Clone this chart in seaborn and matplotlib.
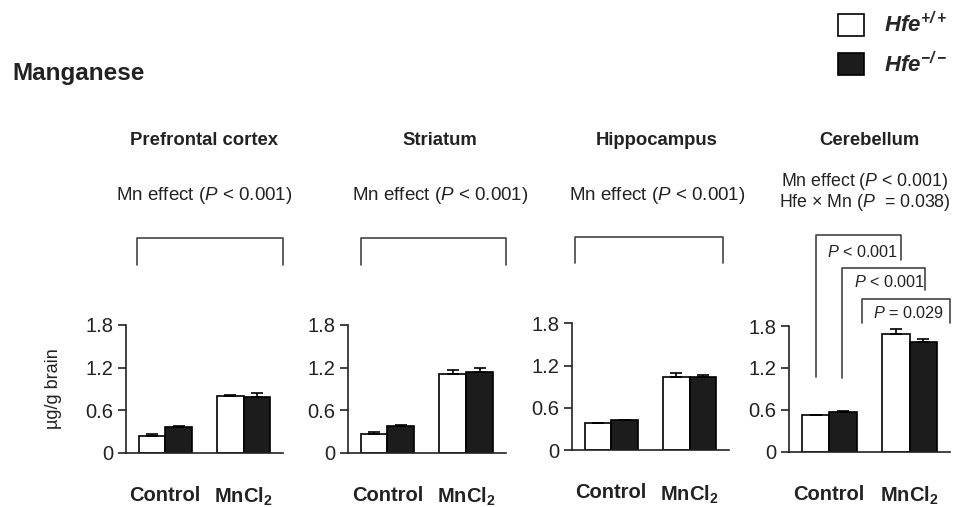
import matplotlib
matplotlib.use("Agg")
import matplotlib.pyplot as plt
import seaborn as sns
import pandas as pd

sns.set_style("white")
plt.rcParams["font.family"] = ["Liberation Sans", "DejaVu Sans"]
plt.rcParams["mathtext.fontset"] = "custom"
plt.rcParams["mathtext.rm"] = "Liberation Sans"
plt.rcParams["mathtext.it"] = "Liberation Sans:italic"
plt.rcParams["mathtext.bf"] = "Liberation Sans:bold"
plt.rcParams["mathtext.bfit"] = "Liberation Sans:bold:italic"

regions = ["Prefrontal cortex", "Striatum", "Hippocampus", "Cerebellum"]
treatments = ["Control", "MnCl$_\\mathbf{2}$"]
genotypes = ["Hfe$^{+/+}$", "Hfe$^{-/-}$"]

# mean values (ug/g brain), [Control, MnCl2]
wt_mean = [[0.24, 0.80], [0.27, 1.11], [0.38, 1.03], [0.52, 1.69]]
ko_mean = [[0.36, 0.78], [0.37, 1.14], [0.42, 1.04], [0.57, 1.57]]
wt_err = [[0.02, 0.02], [0.02, 0.06], [0.01, 0.06], [0.01, 0.06]]
ko_err = [[0.02, 0.06], [0.02, 0.06], [0.01, 0.03], [0.01, 0.04]]

stats_text = ["Mn effect ($\\mathit{P}$ < 0.001)"] * 3 + [
    "Mn effect ($\\mathit{P}$ < 0.001)\nHfe \u00d7 Mn ($\\mathit{P}$  = 0.038)"]
pair_labels = ["$\\mathit{P}$ < 0.001", "$\\mathit{P}$ < 0.001", "$\\mathit{P}$ = 0.029"]

W, H = 957, 507
fig = plt.figure(figsize=(W / 100, H / 100), dpi=100)

# axes boxes in pixels: left, right, y of 0, y of 1.8
boxes = [(126, 283, 452.7, 325), (348, 505.5, 452.7, 325),
         (572, 729, 450, 323.3), (789, 950, 451.7, 326)]
title_x = [204, 440, 657, 869]
bracket_x = [(-0.36, 1.5), (-0.34, 1.51), (-0.46, 1.42)]

white, black = "#ffffff", "#1c1c1c"
line_col = "#444444"
txt_col = "#222222"

for i, region in enumerate(regions):
    l, r, y0, y1 = boxes[i]
    ax = fig.add_axes([l / W, 1 - y0 / H, (r - l) / W, (y0 - y1) / H])
    df = pd.DataFrame({
        "treatment": treatments * 2,
        "genotype": [genotypes[0]] * 2 + [genotypes[1]] * 2,
        "value": wt_mean[i] + ko_mean[i],
    })
    sns.barplot(data=df, x="treatment", y="value", hue="genotype",
                palette=[white, black], width=0.68, edgecolor="black",
                linewidth=1.2, errorbar=None, ax=ax, legend=(i == 0))
    for cont, errs in zip(ax.containers, [wt_err[i], ko_err[i]]):
        xs = [p.get_x() + p.get_width() / 2 for p in cont.patches]
        ys = [p.get_height() for p in cont.patches]
        ax.errorbar(xs, ys, yerr=[[0, 0], errs], fmt="none", ecolor="black",
                    elinewidth=1.2, capsize=4, capthick=1.2)
    ax.set_ylim(0, 1.8)
    ax.set_xlim(-0.5, 1.5)
    ax.set_yticks([0, 0.6, 1.2, 1.8])
    ax.set_yticklabels(["0", "0.6", "1.2", "1.8"])
    ax.set_xlabel("")
    ax.set_ylabel("")
    sns.despine(ax=ax)
    for s in ["left", "bottom"]:
        ax.spines[s].set_color(txt_col)
        ax.spines[s].set_linewidth(1.2)
    ax.tick_params(axis="y", direction="out", length=6, width=1.2,
                   labelsize=14.5, colors=txt_col, left=True, pad=3)
    ax.tick_params(axis="x", length=0, pad=24)
    for t in ax.get_xticklabels():
        t.set_fontsize(14.5)
        t.set_fontweight("bold")
        t.set_color(txt_col)
    if i == 0:
        handles, labels = ax.get_legend_handles_labels()
        ax.get_legend().remove()
        ax.set_ylabel("\u00b5g/g brain", fontsize=13, labelpad=17, color=txt_col)

    fig.text(title_x[i] / W, 1 - 140 / H, region, ha="center", va="center",
             fontsize=13.3, fontweight="bold", color=txt_col)
    if i < 3:
        fig.text(title_x[i] / W, 1 - 196 / H, stats_text[i], ha="center",
                 va="center", fontsize=13.5, color=txt_col)
        xa, xb = bracket_x[i]
        ax.plot([xa, xa, xb, xb], [2.65, 3.03, 3.03, 2.65], color=line_col,
                lw=1.2, clip_on=False)
    else:
        fig.text(865 / W, 1 - 192 / H, stats_text[i], ha="center",
                 va="center", fontsize=12.8, color=txt_col, linespacing=1.05)
        brackets = [(-0.16, 0.89, 1.07, 2.74, 3.10),
                    (0.16, 1.19, 1.06, 2.32, 2.63),
                    (0.41, 1.50, 1.84, 1.84, 2.19)]
        label_pos = [(0.42, 2.86), (0.75, 2.43), (0.98, 1.98)]
        for (xa, xb, ya, yb, top), lab, (tx, ty) in zip(brackets, pair_labels, label_pos):
            ax.plot([xa, xa, xb, xb], [ya, top, top, yb], color=line_col,
                    lw=1.2, clip_on=False)
            ax.text(tx, ty, lab, ha="center", va="center", fontsize=11.7,
                    color=txt_col, clip_on=False)

fig.text(12 / W, 1 - 73 / H, "Manganese", ha="left", va="center",
         fontsize=17.5, fontweight="bold", color=txt_col)

leg_labels = ["$\\mathbfit{Hfe}^{\\mathbfit{+/+}}$", "$\\mathbfit{Hfe}^{\\mathbfit{-/-}}$"]
fig.legend(handles, leg_labels, loc="upper left",
           bbox_to_anchor=(818 / W, 1 + 8 / H), frameon=False, fontsize=16,
           handlelength=1.15, handleheight=1.15, labelspacing=0.65,
           handletextpad=0.9)

fig.savefig("out.png", dpi=100)
